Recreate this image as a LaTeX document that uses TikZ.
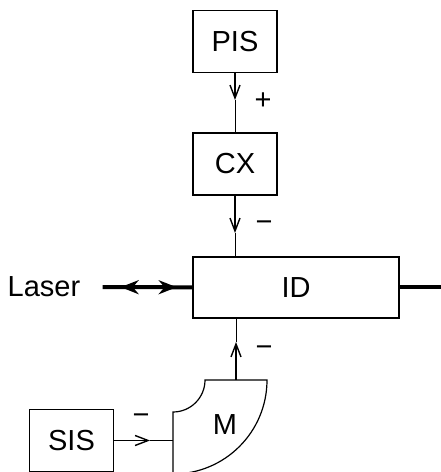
\documentclass[tikz,border=0pt]{standalone}
\usepackage{fontspec}
\setmainfont{Liberation Sans}
\usetikzlibrary{arrows.meta,decorations.markings}

\begin{document}
\begin{tikzpicture}[x=0.5pt,y=0.5pt,
  every node/.style={font=\fontsize{14.5}{17}\selectfont},
  box/.style={draw,line width=0.6pt,minimum width=42pt,minimum height=31pt,inner sep=0pt},
  sign/.style={inner sep=0pt},
  feed/.style={line width=0.7pt,-{Straight Barb[length=6.5pt,width=5pt]}},
  wire/.style={line width=0.35pt},
  beam/.style={line width=2pt},
  beamtip/.tip={Stealth[length=9pt,width=7pt]}]
\useasboundingbox (0,0) rectangle (440,472);
\node[box] (pis) at (235,430.5) {PIS};
\node[box] (cx) at (235,308) {CX};
\node[box,minimum width=103pt,minimum height=30.5pt] (id) at (296,184.5) {ID};
\node[box] (sis) at (71.5,31.5) {SIS};
\node[inner sep=0pt] (laser) at (44,185) {Laser};
% modulator
\draw[line width=0.6pt] (205,92) -- (267,92) arc[start angle=0,end angle=-90,radius=94]
  -- (173,60) arc[start angle=-90,end angle=0,radius=32] -- cycle;
\node (m) at (225,47) {M};
\coordinate (m-top) at (236,92);
\coordinate (m-left) at (173,31.5);
\coordinate (a1) at (235,372);
\coordinate (a2) at (235,239);
\coordinate (a3) at (236,130);
\coordinate (a4) at (150,31.5);
\coordinate (out) at (442,184.5);
% connectors
\draw[feed] (pis) -- (a1);
\draw[wire] (a1) -- (cx);
\draw[feed] (cx) -- (a2);
\draw[wire] (a2) -- (a2 |- id.north);
\draw[feed] (m-top) -- (a3);
\draw[wire] (a3) -- (a3 |- id.south);
\draw[feed] (sis) -- (a4);
\draw[wire] (a4) -- (m-left);
\draw[beam,shorten <=11pt,postaction={decorate},decoration={markings,
  mark=at position 29pt with {\arrow{beamtip[reversed]}},
  mark=at position 48pt with {\arrow{beamtip}}}] (laser) -- (id);
\draw[beam] (id.east) -- (out);
% signs
\node[sign] (s1) at (263,371) {+};
\node[sign] (s2) at (264,246) {−};
\node[sign] (s3) at (264,121) {−};
\node[sign] (s4) at (141,53) {−};
\end{tikzpicture}
\end{document}
